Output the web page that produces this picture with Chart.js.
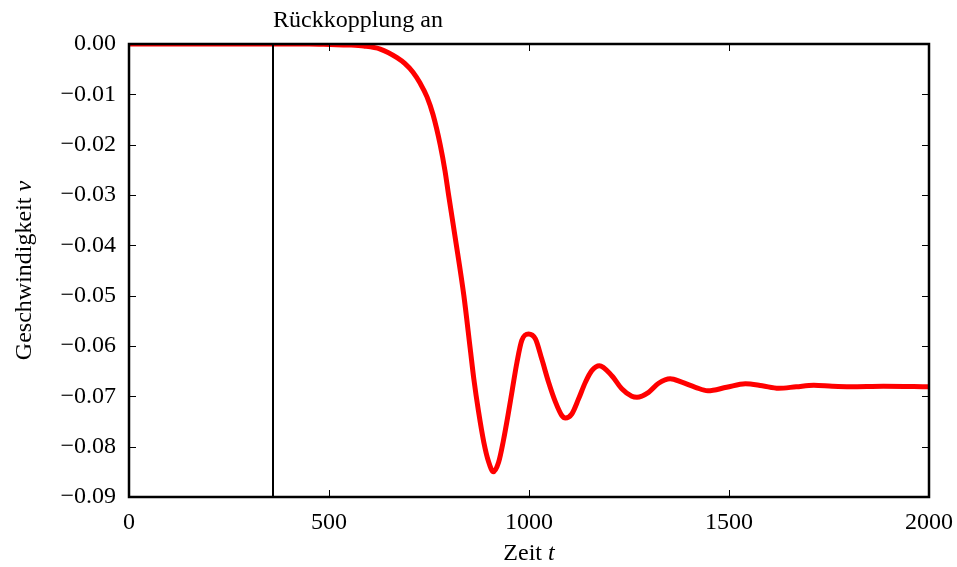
<!DOCTYPE html>
<html>
<head>
<meta charset="utf-8">
<script src="https://cdn.jsdelivr.net/npm/chart.js@4.4.0/dist/chart.umd.min.js"></script>
<style>
  html, body { margin: 0; padding: 0; background: #fff; }
  #wrap { width: 957px; height: 567px; }
</style>
</head>
<body>
<div id="wrap"><canvas id="grafico"></canvas></div>
<script>
// Daten
const zeiten = [0, 200, 360, 450, 503, 550, 587, 628, 670, 690, 710, 728, 745, 760, 778, 790, 799, 816, 837, 853, 862, 874, 887, 899, 911, 924, 936, 947, 958, 970, 982, 999, 1016, 1032, 1049, 1066, 1082, 1091, 1107, 1124, 1141, 1157, 1176, 1207, 1232, 1257, 1270, 1299, 1324, 1353, 1382, 1416, 1447, 1494, 1541, 1583, 1624, 1668, 1712, 1758, 1803, 1886, 2000];
const geschwindigkeit = [0, 0, 0, 0, -0.0001, -0.0002, -0.0004, -0.0010, -0.0027, -0.0039, -0.0056, -0.0078, -0.0105, -0.0140, -0.0200, -0.0252, -0.0300, -0.0387, -0.0499, -0.0605, -0.0665, -0.0731, -0.0791, -0.0830, -0.0850, -0.0831, -0.0788, -0.0740, -0.0688, -0.0632, -0.0589, -0.0576, -0.0586, -0.0626, -0.0672, -0.0711, -0.0738, -0.0743, -0.0735, -0.0705, -0.0672, -0.0649, -0.0639, -0.0659, -0.0685, -0.0700, -0.0702, -0.0692, -0.0674, -0.0665, -0.0672, -0.0682, -0.0689, -0.0682, -0.0675, -0.0679, -0.0684, -0.0681, -0.0678, -0.0680, -0.0681, -0.0680, -0.0681];
const xTicks = [0, 500, 1000, 1500, 2000];
const yTicks = [0, -0.01, -0.02, -0.03, -0.04, -0.05, -0.06, -0.07, -0.08, -0.09];
const rueckkopplungZeit = 360;
const rueckkopplungText = 'Rückkopplung an';

const schrift = '"Liberation Serif", "DejaVu Serif", serif';
const groesse = 24;

function fmtY(v) {
  if (Math.abs(v) < 1e-9) return '0.00';
  return v.toFixed(2).replace('-', '\u2212');
}

// Rahmen, Ticks nach innen, vertikale Linie, Achsentitel
const rahmenPlugin = {
  id: 'rahmen',
  afterDatasetsDraw(chart) {
    const { ctx, chartArea: a, scales } = chart;
    const xs = scales.x, ys = scales.y;
    ctx.save();
    // vertikale Linie
    const xl = xs.getPixelForValue(rueckkopplungZeit);
    ctx.strokeStyle = '#000';
    ctx.lineWidth = 2;
    ctx.beginPath();
    ctx.moveTo(xl, a.top);
    ctx.lineTo(xl, a.bottom);
    ctx.stroke();
    // Ticks
    ctx.lineWidth = 1;
    const len = 7;
    xTicks.forEach(t => {
      const p = Math.round(xs.getPixelForValue(t)) + 0.5;
      ctx.beginPath();
      ctx.moveTo(p, a.bottom); ctx.lineTo(p, a.bottom - len);
      ctx.moveTo(p, a.top); ctx.lineTo(p, a.top + len);
      ctx.stroke();
    });
    yTicks.forEach(t => {
      const p = Math.round(ys.getPixelForValue(t)) + 0.5;
      ctx.beginPath();
      ctx.moveTo(a.left, p); ctx.lineTo(a.left + len, p);
      ctx.moveTo(a.right, p); ctx.lineTo(a.right - len, p);
      ctx.stroke();
    });
    // Rahmen
    ctx.lineWidth = 2.5;
    ctx.strokeRect(a.left, a.top, a.right - a.left, a.bottom - a.top);
    // Beschriftung
    ctx.fillStyle = '#000';
    ctx.font = groesse + 'px ' + schrift;
    ctx.textBaseline = 'alphabetic';
    ctx.textAlign = 'left';
    ctx.fillText(rueckkopplungText, xl, 27);
    // x-Titel
    const cx = (a.left + a.right) / 2;
    const t1 = 'Zeit ';
    const w1 = ctx.measureText(t1).width;
    ctx.font = 'italic ' + groesse + 'px ' + schrift;
    const w2 = ctx.measureText('t').width;
    let x0 = cx - (w1 + w2) / 2;
    ctx.font = groesse + 'px ' + schrift;
    ctx.fillText(t1, x0, 560);
    ctx.font = 'italic ' + groesse + 'px ' + schrift;
    ctx.fillText('t', x0 + w1, 560);
    // y-Titel
    ctx.translate(31, (a.top + a.bottom) / 2);
    ctx.rotate(-Math.PI / 2);
    const s1 = 'Geschwindigkeit ';
    ctx.font = groesse + 'px ' + schrift;
    const v1 = ctx.measureText(s1).width;
    ctx.font = 'italic ' + groesse + 'px ' + schrift;
    const v2 = ctx.measureText('v').width;
    x0 = -(v1 + v2) / 2;
    ctx.font = groesse + 'px ' + schrift;
    ctx.fillText(s1, x0, 0);
    ctx.font = 'italic ' + groesse + 'px ' + schrift;
    ctx.fillText('v', x0 + v1, 0);
    ctx.restore();
  }
};

const punkte = zeiten.map((t, i) => ({ x: t, y: geschwindigkeit[i] }));

new Chart(document.getElementById('grafico'), {
  type: 'line',
  data: {
    datasets: [{
      data: punkte,
      borderColor: '#ff0000',
      borderWidth: 5,
      pointRadius: 0,
      cubicInterpolationMode: 'monotone',
      fill: false
    }]
  },
  options: {
    responsive: true,
    maintainAspectRatio: false,
    animation: false,
    events: [],
    layout: { padding: { left: 0, right: 28, top: 44, bottom: 0 } },
    plugins: { legend: { display: false }, tooltip: { enabled: false } },
    scales: {
      x: {
        type: 'linear',
        min: 0, max: 2000,
        afterBuildTicks: s => { s.ticks = xTicks.map(v => ({ value: v })); },
        afterFit: s => { s.height = 70; s.paddingLeft = 0; s.paddingRight = 0; },
        grid: { display: false, drawTicks: false },
        border: { display: false },
        ticks: { color: '#000', font: { family: schrift, size: groesse }, padding: 11, maxRotation: 0, callback: v => String(v) }
      },
      y: {
        type: 'linear',
        min: -0.09, max: 0,
        afterBuildTicks: s => { s.ticks = yTicks.map(v => ({ value: v })); },
        afterFit: s => { s.width = 129; s.paddingTop = 0; s.paddingBottom = 0; },
        grid: { display: false, drawTicks: false },
        border: { display: false },
        ticks: { color: '#000', font: { family: schrift, size: groesse }, padding: 13, callback: v => fmtY(v) }
      }
    }
  },
  plugins: [rahmenPlugin]
});
</script>
</body>
</html>
